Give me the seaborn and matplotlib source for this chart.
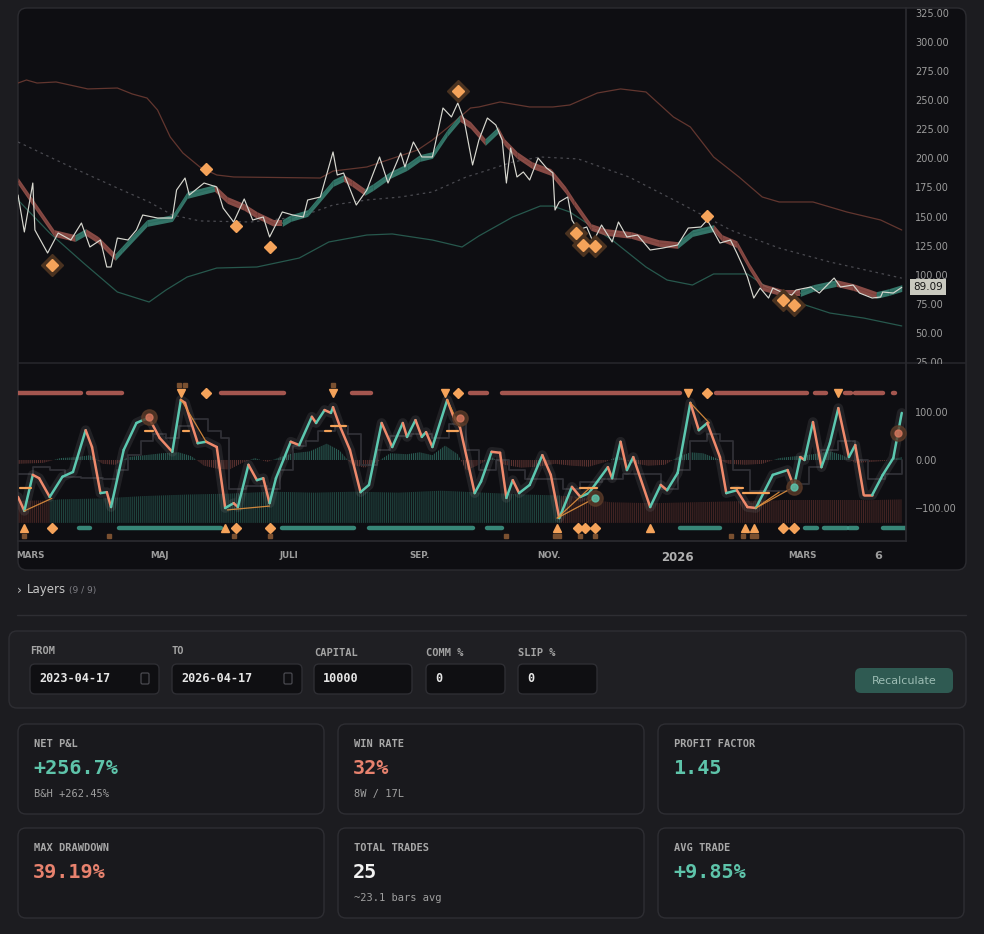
import numpy as np
import pandas as pd
import matplotlib
matplotlib.use("Agg")
import matplotlib.pyplot as plt
import seaborn as sns
from matplotlib.collections import LineCollection
from matplotlib.patches import FancyBboxPatch, Rectangle
from matplotlib.colors import to_rgba

# ---------------- data (x = days since 2025-02-23) ----------------
START = pd.Timestamp("2025-02-23")

price_day = [0,3,7,8,14,19,25,30,34,39,42,44,47,52,56,59,66,73,75,79,81,88,94,97,102,107,111,116,119,125,
             130,135,137,143,149,151,154,160,165,171,175,181,183,187,191,196,201,205,208,211,215,218,222,226,229,
             231,233,236,239,242,246,250,253,254,256,260,262,265,269,272,276,281,284,288,293,299,305,312,317,323,
             326,332,337,340,343,345,348,351,355,357,362,366,368,375,379,386,389,395,398,404,408,409,414,418]
price_val = [168.5,136.7,178.8,138.4,118.6,135.8,129.8,144.4,123.8,129.8,106.6,106.6,131.5,129.8,138.4,151.3,148.7,
             148.7,172.8,183.1,168.5,178.8,175.4,157.3,145.3,165.1,147.0,149.6,132.4,153.9,151.3,149.6,164.2,166.8,
             205.5,185.7,187.4,159.9,172.8,201.2,178.8,204.6,192.6,214.1,201.2,201.2,243.3,235.6,247.6,233.0,194.3,
             215.8,234.7,228.7,215.8,178.8,208.9,184.0,188.3,181.4,200.3,191.7,187.4,155.6,162.5,166.8,147.0,138.4,
             141.0,128.1,142.7,128.1,145.3,132.4,134.1,121.2,122.9,125.5,140.1,141.0,147.0,127.2,129.8,118.6,106.6,
             98.0,79.9,88.5,79.9,88.5,84.2,82.5,86.8,89.4,84.2,97.1,89.4,91.1,84.2,79.9,80.8,85.1,84.2,89.09]

upper_day = [0,4,9,18,33,47,54,61,66,72,78,86,94,102,143,149,165,189,196,203,214,218,228,242,253,261,274,285,297,
             310,318,329,341,352,360,376,392,408,418]
upper_val = [264.8,267.4,264.8,265.7,259.7,260.5,255.4,251.9,241.6,218.4,204.6,192.6,185.7,184.0,183.1,189.1,192.6,
             207.2,215.8,226.1,243.3,244.2,248.5,244.2,244.2,245.9,256.2,259.7,257.1,235.6,227.0,201.2,184.0,166.8,
             162.5,162.5,153.9,147.0,138.4]

lower_day = [0,15,31,47,62,70,80,94,113,133,147,165,177,196,210,218,234,247,253,261,281,297,307,319,329,345,354,
             368,384,400,418]
lower_val = [164.2,135.8,110.0,85.1,76.5,86.8,98.0,105.7,106.6,114.3,128.1,134.1,135.0,129.8,123.8,133.3,149.6,159.0,
             159.0,153.9,129.8,106.6,95.4,91.1,100.6,100.6,89.4,76.5,67.0,62.7,55.9]

mid_day = [0,23,47,62,73,86,110,133,149,165,181,196,212,218,234,247,265,289,313,337,360,384,418]
mid_val = [214.1,194.3,174.5,162.5,151.3,146.2,145.3,149.6,159.9,164.2,166.8,171.1,184.0,187.4,196.9,201.2,199.5,
           184.0,161.6,138.4,122.9,110.9,97.0]

ribbon_day = [0,17,27,32,38,46,49,61,73,80,93,99,107,113,121,125,129,137,149,154,158,164,168,176,184,190,196,203,
              209,214,221,227,230,236,243,252,259,263,271,278,290,303,312,319,329,333,340,346,352,362,370,376,387,
              395,406,412,418]
ribbon_val = [180.5,135.8,131.5,136.7,129.8,115.2,121.2,144.4,148.7,168.5,174.5,164.2,158.2,151.3,144.4,144.4,148.7,
              153.0,178.8,183.1,178.8,171.1,175.4,185.7,192.6,200.3,202.9,221.8,234.7,228.7,214.1,224.4,214.1,202.9,
              194.3,188.3,172.8,161.6,141.0,136.7,134.1,127.2,125.5,135.8,140.1,131.5,126.2,106.6,89.4,84.2,84.2,
              88.5,92.8,89.4,82.5,85.1,88.5]

signal_day = [16,89,103,119,208,264,267,273,326,362,367]
signal_price = [108.3,190.9,141.9,123.8,257.9,135.8,125.5,124.6,150.5,78.2,74.0]
signal_major = [1,0,0,0,1,1,1,1,0,1,1]
last_price = 89.09

osc_day = [0,3,7,10,15,21,26,32,35,39,42,44,50,56,59,62,67,73,77,79,85,89,94,98,102,104,109,113,116,119,122,129,
           133,139,141,145,148,149,152,157,162,166,172,177,182,184,188,191,193,196,203,206,209,216,219,224,228,231,
           234,237,242,248,252,256,262,266,270,279,281,285,288,291,299,304,307,312,318,322,326,332,335,340,345,349,
           357,364,367,370,372,376,380,384,388,393,396,400,404,409,414,418]
osc_val = [-77,-106,-31,-38,-77,-35,-25,62,27,-69,-67,-98,21,77,83,87,46,17,125,119,35,38,27,-100,-90,-98,-10,-42,
           -38,-90,-38,38,31,90,77,104,98,110,73,21,-67,-52,77,27,77,48,83,48,58,27,125,90,69,-69,-45,17,15,-79,-42,
           -69,-52,10,-31,-121,-56,-77,-69,-15,-38,38,-21,6,-98,-52,-63,-27,119,62,77,6,-69,-63,-98,-100,-31,-21,
           -56,6,0,79,-15,35,108,6,31,-73,-73,-31,4,98]

sig_day = [0,7,15,22,30,40,47,52,58,64,70,76,82,90,96,100,108,118,124,130,136,142,150,156,162,170,176,186,196,204,
           212,218,226,232,240,252,258,266,276,286,296,304,312,318,326,332,338,346,360,368,374,380,388,396,402,410,418]
sig_val = [-30,-15,-20,-35,-38,-40,-20,10,40,55,45,70,85,60,45,-60,-55,-60,-20,30,40,60,70,55,-10,20,50,55,45,75,20,
           -20,0,-20,-40,-40,-60,-45,-40,-30,-30,-60,-20,40,55,40,-20,-65,-65,-50,-15,20,40,0,-40,-30,0]

hist_day = [0,12,20,28,34,40,46,52,60,68,76,82,88,94,100,106,112,118,124,130,138,146,152,158,164,170,176,184,190,
            196,202,208,212,218,224,230,238,246,254,262,270,278,284,290,298,306,312,318,324,330,336,344,352,360,368,
            376,384,390,396,404,410,418]
hist_val = [-8,-6,4,6,10,-8,-10,6,10,14,16,8,-12,-18,-20,-6,4,-4,6,14,18,34,20,-10,-16,-4,14,12,16,10,30,12,-22,-10,
            6,-10,-16,-14,-8,-12,-14,-4,8,-6,-12,-10,6,16,14,4,-8,-10,-8,4,8,12,18,10,-6,-4,-2,6]

vol_day = [0,15,20,40,60,80,100,120,140,160,180,200,220,240,257,260,280,300,320,340,360,380,400,418]
vol_top = [-85,-84,-82,-80,-75,-72,-70,-66,-68,-66,-68,-64,-68,-72,-74,-74,-88,-90,-88,-86,-84,-84,-84,-82]
vol_side = ["dn","up","up","up","up","up","up","up","up","up","up","up","up","up","dn","dn","dn","dn","dn","dn","dn",
            "dn","dn","dn"]

bear_zones = [(0,30),(33,49),(96,126),(158,167),(214,222),(229,313),(330,373),(377,382),(391,394),(396,409),(414,414.6)]
bull_zones = [(29,34),(48,96),(125,159),(166,215),(222,229),(313,332),(372,378),(381,392),(393,397),(409,420)]

sell_tri_day = [77,149,202,317,388]
top_dia_day = [89,208,326]
top_sq_day = [76,79,149]
buy_tri_day = [3,98,255,299,344,348]
bot_dia_day = [16,103,119,265,268,273,362,367]
bot_sq_day = [3,43,102,119,231,254,256,266,273,337,343,347,349]

level_segs = [((1,6),-58),((60,64),60),((78,81),60),((145,148),60),((148,155),71),((203,208),60),((266,274),-58),
              ((337,343),-58),((343,355),-69)]
div_lines = [((3,16),(-106,-80)),((77,89),(127,38)),((99,119),(-104,-96)),((203,209),(125,69)),((255,273),(-121,-79)),
             ((255,270),(-121,-60)),((318,327),(119,77)),((349,367),(-100,-56)),((349,360),(-100,-67))]
pivot_day = [62,209,273,367,416]
pivot_val = [90,88,-79,-56,56]
pivot_side = ["dn","dn","up","up","dn"]

tick_dates = ["2025-03-01","2025-05-01","2025-07-01","2025-09-01","2025-11-01","2026-01-01","2026-03-01","2026-04-06"]
tick_labels = ["MARS","MAJ","JULI","SEP.","NOV.","2026","MARS","6"]

field_labels = ["FROM","TO","CAPITAL","COMM %","SLIP %"]
field_values = ["2023-04-17","2026-04-17","10000","0","0"]

card_labels = ["NET P&L","WIN RATE","PROFIT FACTOR","MAX DRAWDOWN","TOTAL TRADES","AVG TRADE"]
card_values = ["+256.7%","32%","1.45","39.19%","25","+9.85%"]
card_subs = ["B&H +262.45%","8W / 17L","","","~23.1 bars avg",""]
card_tone = ["pos","neg","pos","neg","neu","pos"]

# ---------------- style ----------------
sns.set_theme(style="dark")
plt.rcParams["font.family"] = ["DejaVu Sans"]
plt.rcParams["hatch.linewidth"] = 0.7
PAGE = "#1c1c20"
PANEL = "#0e0e12"
BORDER = "#2c2c31"
TXT = "#9c9c9c"
TEAL = "#5cc8b0"
SALMON = "#f08a6c"
ORANGE = "#f5a35a"
RIB_UP = "#3e8f7e"
RIB_DN = "#a65a52"
MONO = "DejaVu Sans Mono"

W, H = 984, 934
fig = plt.figure(figsize=(W / 100, H / 100), dpi=100)
fig.patch.set_facecolor(PAGE)

bg = fig.add_axes([0, 0, 1, 1], zorder=0)
bg.set_xlim(0, W); bg.set_ylim(H, 0); bg.axis("off")


def rbox(ax, x, y, w, h, fc, ec, r=8, lw=1.0, z=1):
    ax.add_patch(FancyBboxPatch((x, y), w, h, boxstyle=f"round,pad=0,rounding_size={r}",
                                fc=fc, ec=ec, lw=lw, zorder=z))


rbox(bg, 18, 8, 948, 562, PANEL, BORDER, r=9)
bg.plot([18, 966], [362.5, 362.5], color="#26262b", lw=1.2, zorder=3)

# ---------------- price panel ----------------
axp = fig.add_axes([18 / W, 1 - 362 / H, 888 / W, 354 / H], zorder=2)
axp.set_facecolor("none")
axp.set_xlim(0, 420)
axp.set_ylim(24.9, 329.3)

sns.lineplot(x=upper_day, y=upper_val, ax=axp, color="#62362f", lw=0.9)
sns.lineplot(x=lower_day, y=lower_val, ax=axp, color="#27584d", lw=0.9)
sns.lineplot(x=mid_day, y=mid_val, ax=axp, color="#4a4a50", lw=0.9, linestyle=(0, (2, 3)))

half = 2.9
rd = np.array(ribbon_day, float); rv = np.array(ribbon_val, float)
for i in range(len(rd) - 1):
    col = RIB_UP if rv[i + 1] > rv[i] else RIB_DN
    xs = rd[i:i + 2]; ys = rv[i:i + 2]
    axp.fill_between(xs, ys - half, ys + half, color=col, alpha=0.8, lw=0, zorder=3)
    axp.plot(xs, ys, color="#2a6b5e" if col == RIB_UP else "#7e423c", lw=0.7, zorder=3.1)

sns.lineplot(x=price_day, y=price_val, ax=axp, color="#d8d8d0", lw=0.85, zorder=4)

for d, p, m in zip(signal_day, signal_price, signal_major):
    if m:
        axp.plot(d, p, marker="D", ms=11, color="#4a3220", mec="#4a3220", zorder=5)
    axp.plot(d, p, marker="D", ms=6, color=ORANGE, mec=ORANGE, zorder=6)

axp.yaxis.tick_right()
axp.set_yticks(np.arange(25, 326, 25))
axp.set_yticklabels([f"{v:.2f}" for v in np.arange(25, 326, 25)])
axp.tick_params(axis="y", length=0, pad=6.5, labelsize=7, labelcolor=TXT)
axp.set_xticks([])
axp.grid(False)
for s in ["top", "left", "bottom"]:
    axp.spines[s].set_visible(False)
axp.spines["right"].set_color("#2a2a2f")
axp.set_xlabel(""); axp.set_ylabel("")
axp.annotate(f"{last_price:.2f}", xy=(1, last_price), xycoords=("axes fraction", "data"), xytext=(5, 0),
             textcoords="offset points", va="center", ha="left", fontsize=7.5, color="#141414", zorder=10,
             bbox=dict(boxstyle="square,pad=0.3", fc="#c9c9bf", ec="none"), annotation_clip=False)

# ---------------- oscillator panel ----------------
axo = fig.add_axes([18 / W, 1 - 541 / H, 888 / W, 178 / H], zorder=2)
axo.set_facecolor("none")
axo.set_xlim(0, 420)
axo.set_ylim(-168.75, 202)

HATCH = "||||||||"
hd = np.array(hist_day, float); hv = np.array(hist_val, float)
axo.fill_between(hd, 0, hv, where=hv >= 0, interpolate=True, fc=to_rgba("#3c8f7e", 0.06),
                 ec=to_rgba("#3c8f7e", 0.6), hatch=HATCH, lw=0)
axo.fill_between(hd, 0, hv, where=hv <= 0, interpolate=True, fc=to_rgba("#8e4a44", 0.06),
                 ec=to_rgba("#8e4a44", 0.6), hatch=HATCH, lw=0)

vd = np.array(vol_day, float); vt = np.array(vol_top, float)
for i in range(len(vd) - 1):
    col = "#2e6e61" if vol_side[i] == "up" else "#6a3530"
    axo.fill_between(vd[i:i + 2], -131, vt[i:i + 2], fc=to_rgba(col, 0.08), ec=to_rgba(col, 0.55),
                     hatch=HATCH, lw=0)

sns.lineplot(x=sig_day, y=sig_val, ax=axo, color="#303036", lw=1.3, drawstyle="steps-post")

for a, b in bear_zones:
    axo.plot([a, b], [139, 139], color="#c0645a", lw=3.2, alpha=0.85, solid_capstyle="round")
for a, b in bull_zones:
    axo.plot([a, b], [-141, -141], color="#3f9c8a", lw=3.2, alpha=0.85, solid_capstyle="round")

sns.lineplot(x=osc_day, y=osc_val, ax=axo, color="#9a9a9a", lw=7, alpha=0.14)
od = np.array(osc_day, float); ov = np.array(osc_val, float)
segs = np.stack([np.column_stack([od[:-1], ov[:-1]]), np.column_stack([od[1:], ov[1:]])], axis=1)
cols = [TEAL if ov[i + 1] > ov[i] else SALMON for i in range(len(ov) - 1)]
axo.add_collection(LineCollection(segs, colors=cols, lw=1.8, capstyle="round", joinstyle="round", zorder=4))

for (a, b), v in level_segs:
    axo.plot([a, b], [v, v], color=ORANGE, lw=1.6, zorder=5)
for xs, ys in div_lines:
    axo.plot(xs, ys, color="#e0903e", lw=0.9, alpha=0.9, zorder=5)
for d, v, s in zip(pivot_day, pivot_val, pivot_side):
    c = TEAL if s == "up" else "#d8785e"
    axo.plot(d, v, "o", ms=11, color="#5a3a28", alpha=0.8, zorder=5)
    axo.plot(d, v, "o", ms=5, color=c, alpha=0.8, zorder=6)

axo.plot(sell_tri_day, [140] * len(sell_tri_day), "v", ms=6, color=ORANGE, lw=0, zorder=6)
axo.plot(top_dia_day, [140] * len(top_dia_day), "D", ms=5, color=ORANGE, lw=0, zorder=6)
axo.plot(top_sq_day, [156] * len(top_sq_day), "s", ms=3.2, color="#7a5030", lw=0, zorder=6)
axo.plot(buy_tri_day, [-141] * len(buy_tri_day), "^", ms=6, color=ORANGE, lw=0, zorder=6)
axo.plot(bot_dia_day, [-141] * len(bot_dia_day), "D", ms=5, color=ORANGE, lw=0, zorder=6)
axo.plot(bot_sq_day, [-158] * len(bot_sq_day), "s", ms=3.2, color="#7a5030", lw=0, zorder=6)

axo.yaxis.tick_right()
axo.set_yticks([-100, 0, 100])
axo.set_yticklabels(["\u2212100.00", "0.00", "100.00"])
axo.tick_params(axis="y", length=0, pad=6.5, labelsize=7, labelcolor=TXT)
tpos = [(pd.Timestamp(t) - START).days for t in tick_dates]
axo.set_xticks(tpos)
axo.set_xticklabels(tick_labels)
axo.tick_params(axis="x", length=0, pad=7, labelsize=6.3, labelcolor=TXT)
for lab in axo.get_xticklabels():
    lab.set_fontweight("bold")
    if lab.get_text() == "2026":
        lab.set_fontsize(8.5); lab.set_color("#b0b0b0")
    if lab.get_text() == "6":
        lab.set_fontsize(8)
axo.grid(False)
for s in ["top", "left"]:
    axo.spines[s].set_visible(False)
axo.spines["right"].set_color("#2a2a2f")
axo.spines["bottom"].set_color("#2a2a2f")
axo.set_xlabel(""); axo.set_ylabel("")

# cover for the clipped 25.00 label
top = fig.add_axes([0, 0, 1, 1], zorder=5)
top.set_xlim(0, W); top.set_ylim(H, 0); top.axis("off"); top.patch.set_alpha(0)
top.add_patch(Rectangle((907, 363.5), 55, 8, fc=PANEL, ec="none"))

# ---------------- lower UI ----------------
bg.text(17, 590, "\u203a", color="#c0c0c0", fontsize=9, va="center")
bg.text(27, 590, "Layers", color="#c4c4c4", fontsize=8.5, va="center")
bg.text(69, 590.5, "(9 / 9)", color="#7e7e84", fontsize=6.5, va="center")
bg.plot([17, 966], [614.5, 614.5], color="#2e2e33", lw=1)

rbox(bg, 9, 631, 957, 77, "#1f1f23", "#2e2e33", r=8)
fx = [30, 172, 314, 426, 518]
fw = [129, 130, 98, 79, 79]
fly = [651, 651, 653, 653, 653]
for i, (lab, val) in enumerate(zip(field_labels, field_values)):
    bg.text(fx[i], fly[i], lab, color="#a4a4a4", fontsize=7.5, family=MONO, va="center", fontweight="bold")
    rbox(bg, fx[i], 664, fw[i], 30, "#0f0f12", "#2e2e33", r=5)
    bg.text(fx[i] + 9, 679, val, color="#e6e6e6", fontsize=8.5, family=MONO, va="center", fontweight="bold")
    if i < 2:
        rbox(bg, fx[i] + fw[i] - 18, 673, 8, 11, "none", "#4a4a50", r=1.5, lw=0.9)
rbox(bg, 855, 668, 98, 25, "#2f5a52", "none", r=6)
bg.text(904, 680.5, "Recalculate", color="#9dbdb4", fontsize=8, ha="center", va="center")

tone_col = {"pos": "#5ec4aa", "neg": "#e8826e", "neu": "#f2f2f2"}
cx = [18, 338, 658]
cy = [724, 828]
for k in range(6):
    r, c = divmod(k, 3)
    x0, y0 = cx[c], cy[r]
    rbox(bg, x0, y0, 306, 90, "#19191d", "#2e2e33", r=8)
    bg.text(x0 + 16, y0 + 20, card_labels[k], color="#a8a8a8", fontsize=7.5, family=MONO, va="center",
            fontweight="bold")
    bg.text(x0 + 15, y0 + 45, card_values[k], color=tone_col[card_tone[k]], fontsize=14.5, family=MONO,
            va="center", fontweight="bold")
    if card_subs[k]:
        bg.text(x0 + 16, y0 + 70, card_subs[k], color="#a0a0a0", fontsize=7.5, family=MONO, va="center")

fig.savefig("out.png", dpi=100, facecolor=fig.get_facecolor())
